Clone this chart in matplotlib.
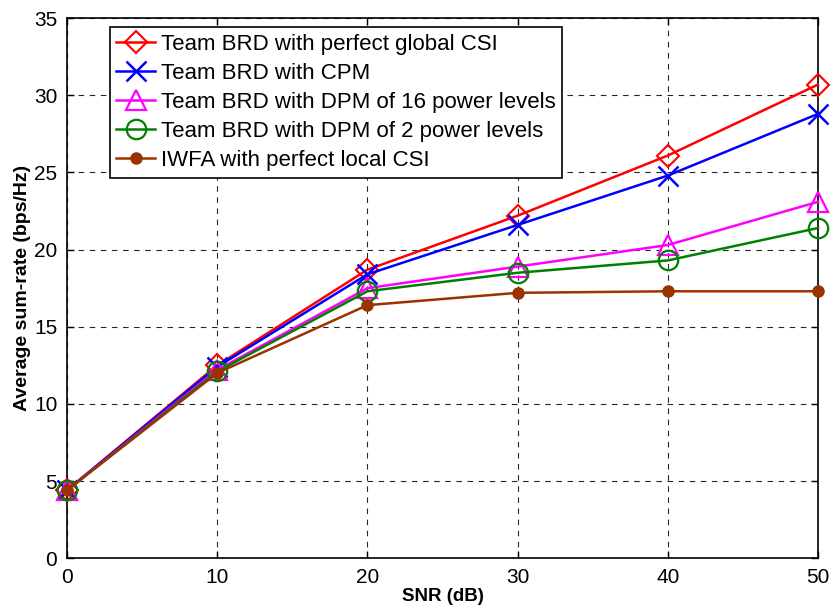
import numpy as np
import matplotlib
matplotlib.use('Agg')
import matplotlib.pyplot as plt

plt.rcParams['font.family'] = ['Liberation Sans', 'DejaVu Sans']

snr = [0, 10, 20, 30, 40, 50]
brd_global = [4.4, 12.5, 18.7, 22.2, 26.1, 30.7]
brd_cpm = [4.4, 12.4, 18.4, 21.6, 24.8, 28.8]
brd_dpm16 = [4.4, 12.2, 17.5, 18.9, 20.3, 23.1]
brd_dpm2 = [4.4, 12.1, 17.3, 18.5, 19.3, 21.4]
iwfa_local = [4.4, 12.0, 16.4, 17.2, 17.3, 17.3]

labels = ['Team BRD with perfect global CSI',
          'Team BRD with CPM',
          'Team BRD with DPM of 16 power levels',
          'Team BRD with DPM of 2 power levels',
          'IWFA with perfect local CSI']

fig = plt.figure(figsize=(8.33, 6.08), dpi=100)
ax = fig.add_axes([0.0804, 0.082, 0.9016, 0.888])

# One entry per curve: data, colour, marker style
styles = [
    (brd_global, 'red', dict(marker='D', markersize=11, markerfacecolor='none', markeredgewidth=1.5)),
    (brd_cpm, 'blue', dict(marker='x', markersize=14, markeredgewidth=1.8)),
    (brd_dpm16, 'magenta', dict(marker='^', markersize=14, markerfacecolor='none', markeredgewidth=1.6)),
    (brd_dpm2, 'green', dict(marker='o', markersize=14, markerfacecolor='none', markeredgewidth=1.6)),
    (iwfa_local, '#993300', dict(marker='o', markersize=8)),
]

for (vals, col, mk), lab in zip(styles, labels):
    ax.plot(snr, vals, color=col, linewidth=1.8, label=lab, clip_on=False, zorder=3, **mk)

ax.set_xlim(0, 50)
ax.set_ylim(0, 35)
ax.set_xticks(np.arange(0, 51, 10))
ax.set_yticks(np.arange(0, 36, 5))
ax.tick_params(direction='in', top=True, right=True, labelsize=15, length=5, width=1, pad=7)
ax.grid(True, color='black', linestyle=(0, (5, 5)), linewidth=0.8, alpha=0.85)
for s in ax.spines.values():
    s.set_linewidth(1.2)
    s.set_zorder(2)

ax.set_xlabel('SNR (dB)', fontsize=13.5, fontweight='bold', labelpad=1)
ax.set_ylabel('Average sum-rate (bps/Hz)', fontsize=14, fontweight='bold', labelpad=2)

leg = ax.legend(loc='upper left', bbox_to_anchor=(0.057, 0.983), fontsize=16,
                fancybox=False, edgecolor='black', framealpha=1,
                handlelength=1.75, handletextpad=0.25, borderpad=0.3,
                labelspacing=0.36, borderaxespad=0)
leg.get_frame().set_linewidth(1.2)
leg.set_zorder(5)

plt.savefig('out.png', dpi=100)
